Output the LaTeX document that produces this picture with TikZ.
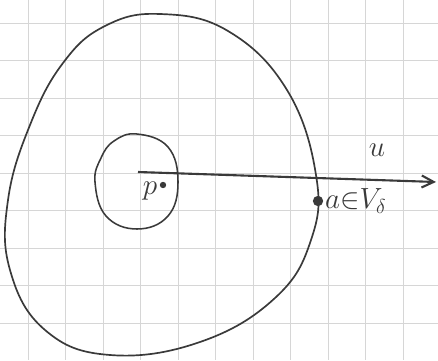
\documentclass[tikz,border=0pt]{standalone}
\usepackage{amsmath,amssymb}
\usepackage{tikz}
\usetikzlibrary{arrows.meta}
\definecolor{pencil}{HTML}{3A3A3A}
\definecolor{paper}{HTML}{D6D6D6}

\begin{document}
\begin{tikzpicture}[x=0.025cm, y=-0.025cm, every node/.style={font=\fontsize{21}{25}\selectfont, text=pencil}, >={Straight Barb[length=3mm, width=3mm]}]
	\useasboundingbox (0,0) rectangle (438,360);
	\foreach \x in {28,65.5,...,438} {\draw[paper, thin] (\x,0) -- (\x,360);}
	\foreach \y in {23,60.5,...,360} {\draw[paper, thin] (0,\y) -- (438,\y);}
	% outer region
	\draw[pencil, line width=1.2pt] plot[smooth cycle, tension=0.7] coordinates {(105,26) (160,14) (228,31) (287,90) (316,175) (311,240) (275,298) (200,342) (110,355) (45,330) (10,270) (8,200) (30,125) (63,63)};
	% small ball round p
	\draw[pencil, line width=1.1pt] plot[smooth cycle, tension=0.7] coordinates {(137,134) (168,147) (178,182) (168,216) (137,229) (106,216) (95,182) (101,158) (114,141)};
	\node[circle, fill=pencil, inner sep=1.6pt] (p) at (163,185) {};
	\node (plabel) at (150,191) {$p$};
	\coordinate (o) at (138,172);
	\coordinate (uend) at (436,182);
	\draw[pencil, ->, line width=1.5pt] (o) -- (uend);
	\node (ulabel) at (377,150) {$u$};
	\node[circle, fill=pencil, inner sep=2.6pt] (a) at (318,201) {};
	\node[anchor=west, inner sep=1pt] (alabel) at (a.east) {$a{\in}V_\delta$};
\end{tikzpicture}
\end{document}
